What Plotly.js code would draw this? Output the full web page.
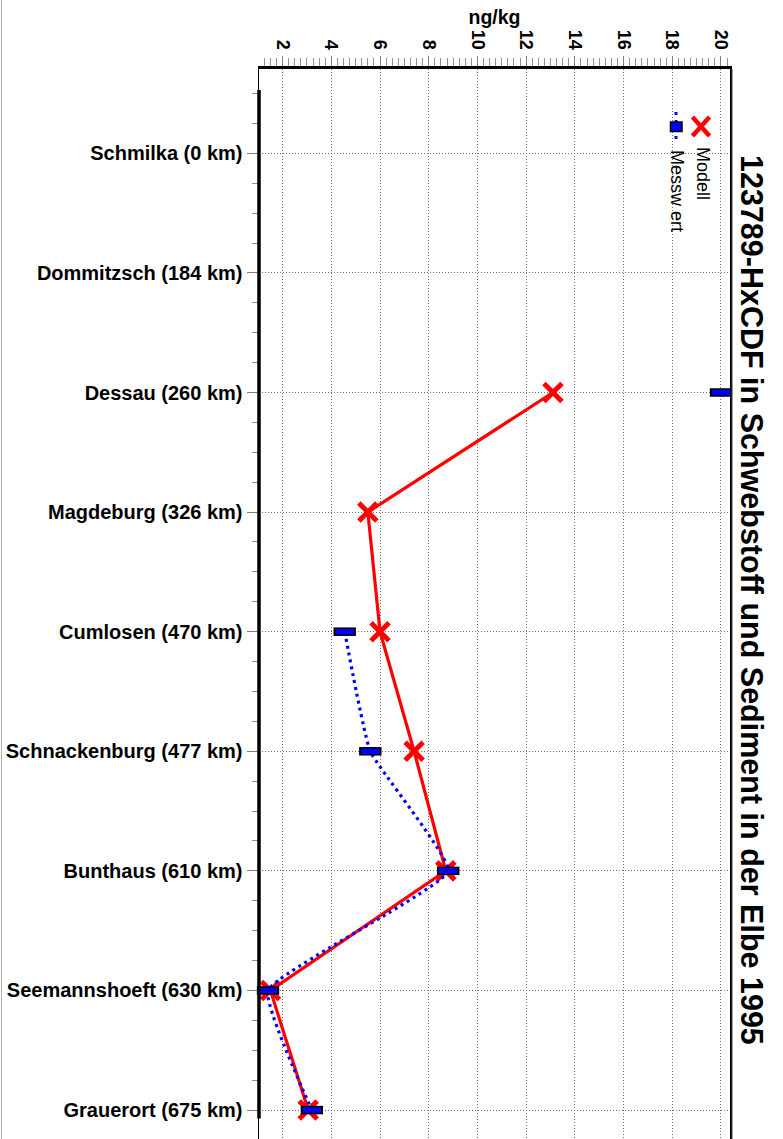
<!DOCTYPE html>
<html>
<head>
<meta charset="utf-8">
<script src="https://cdn.plot.ly/plotly-3.0.1.min.js"></script>
<style>
  html, body { margin: 0; padding: 0; background: #fff; }
  #chart { width: 783px; height: 1139px; position: relative; }
  #edge { position: absolute; left: 1px; top: 0; width: 1px; height: 1139px; background: #b0b0b0; }
</style>
</head>
<body>
<div id="chart"></div>
<div id="edge"></div>
<script>
// Stations along the Elbe (river km) and 123789-HxCDF concentrations in ng/kg
const stations = [
  "Schmilka (0 km)",
  "Dommitzsch (184 km)",
  "Dessau (260 km)",
  "Magdeburg (326 km)",
  "Cumlosen (470 km)",
  "Schnackenburg (477 km)",
  "Bunthaus (610 km)",
  "Seemannshoeft (630 km)",
  "Grauerort (675 km)"
];
const modell   = [null, null, 13.1, 5.5, 6.0, 7.4, 8.7, 1.5, 3.05];
const messwert = [null, null, 20.0, null, 4.55, 5.6, 8.8, 1.4, 3.2];
const xTicks = [2, 4, 6, 8, 10, 12, 14, 16, 18, 20];

const pos = stations.map((s, i) => i);

// plot-area box in pixels, used to place the rotated title and legend
const L = 259, R = 730, T = 69, B = 1139;
const px = p => (p - L) / (R - L);
const py = p => (B - p) / (B - T);

const FONT = "Liberation Sans, Arial, Helvetica, sans-serif";

const traces = [
  {
    name: "Modell",
    x: modell, y: pos,
    mode: "lines+markers",
    connectgaps: false,
    line: { color: "#ff0000", width: 3.2 },
    marker: { symbol: "x-thin", size: 18, color: "#ff0000", line: { color: "#ff0000", width: 5 } },
    cliponaxis: false
  },
  {
    name: "Messwert",
    x: messwert, y: pos,
    mode: "lines",
    connectgaps: false,
    line: { color: "#0000ff", width: 3.2, dash: "3px,4px", shape: "spline", smoothing: 0.35 }
  },
  {
    // box outline
    x: messwert, y: pos,
    mode: "markers",
    marker: { symbol: "line-ew", size: 16, color: "#000", line: { color: "#000", width: 8.5 } },
    cliponaxis: false,
    showlegend: false
  },
  {
    // box fill
    x: messwert, y: pos,
    mode: "markers",
    marker: { symbol: "line-ew", size: 13, color: "#0000ff", line: { color: "#0000ff", width: 5.5 } },
    cliponaxis: false,
    showlegend: false
  }
];

const layout = {
  width: 783, height: 1139,
  margin: { l: L, r: 783 - R, t: T, b: 0, pad: 0 },
  paper_bgcolor: "#fff", plot_bgcolor: "#fff",
  showlegend: false,
  font: { family: FONT, color: "#000" },
  xaxis: {
    side: "top",
    range: [1.03, 20.37],
    tickvals: xTicks,
    ticktext: xTicks.map(String),
    tickangle: 90,
    tickfont: { family: FONT, size: 18, color: "#000", weight: "bold" },
    ticks: "outside", ticklen: 10, tickcolor: "#808080", tickwidth: 1,
    minor: { dtick: 0.25, tick0: 0, ticks: "outside", ticklen: 8, tickcolor: "#909090", tickwidth: 1, showgrid: false },
    showline: true, linecolor: "#000", linewidth: 3,
    showgrid: true, gridcolor: "#6e6e6e", griddash: "1px,2px", gridwidth: 1,
    zeroline: false,
    title: { text: "<b>ng/kg</b>", font: { family: FONT, size: 19.5, color: "#000" }, standoff: 0 }
  },
  yaxis: {
    range: [8.242, -0.705],
    tickvals: pos,
    ticktext: stations,
    tickfont: { family: FONT, size: 20, color: "#000", weight: "bold" },
    ticks: "outside", ticklen: 11, tickcolor: "#808080", tickwidth: 1,
    minor: { dtick: 0.25, tick0: 0, ticks: "outside", ticklen: 6, tickcolor: "#909090", tickwidth: 1, showgrid: false },
    showline: true, mirror: true, linecolor: "#000", linewidth: 1.5,
    showgrid: true, gridcolor: "#6e6e6e", griddash: "1px,2px", gridwidth: 1,
    zeroline: false
  },
  shapes: [
    // heavy value-axis spine along the station range
    { type: "line", xref: "paper", yref: "y", x0: 0, x1: 0, y0: -0.53, y1: 8.07,
      line: { color: "#000", width: 3.5 } },
    // second rule on the right frame
    { type: "line", xref: "paper", yref: "paper", x0: px(732), x1: px(732), y0: 0, y1: 1,
      line: { color: "#444", width: 1 } },
    // legend glyph: Modell
    { type: "line", xref: "paper", yref: "paper", x0: px(692.5), x1: px(709.5), y0: py(117), y1: py(136),
      line: { color: "#ff0000", width: 4.5 } },
    { type: "line", xref: "paper", yref: "paper", x0: px(692.5), x1: px(709.5), y0: py(136), y1: py(117),
      line: { color: "#ff0000", width: 4.5 } },
    // legend glyph: Messwert
    { type: "line", xref: "paper", yref: "paper", x0: px(676), x1: px(676), y0: py(112), y1: py(141),
      line: { color: "#0000ff", width: 3, dash: "3px,5px" } },
    { type: "rect", xref: "paper", yref: "paper", x0: px(670.5), x1: px(682), y0: py(122), y1: py(131.5),
      fillcolor: "#0000ff", line: { color: "#000", width: 1.5 } }
  ],
  annotations: [
    { text: "<b>123789-HxCDF in Schwebstoff und Sediment in der Elbe 1995</b>",
      xref: "paper", yref: "paper", x: px(752), y: py(600), xanchor: "center", yanchor: "middle",
      textangle: 90, showarrow: false, font: { family: FONT, size: 30.5, color: "#000" } },
    { text: "Modell", xref: "paper", yref: "paper", x: px(703), y: py(173),
      xanchor: "center", yanchor: "middle", textangle: 90, showarrow: false,
      font: { family: FONT, size: 18, color: "#000" } },
    { text: "Messw ert", xref: "paper", yref: "paper", x: px(677), y: py(191),
      xanchor: "center", yanchor: "middle", textangle: 90, showarrow: false,
      font: { family: FONT, size: 18, color: "#000" } }
  ]
};

Plotly.newPlot("chart", traces, layout, { staticPlot: true, displayModeBar: false });
</script>
</body>
</html>
